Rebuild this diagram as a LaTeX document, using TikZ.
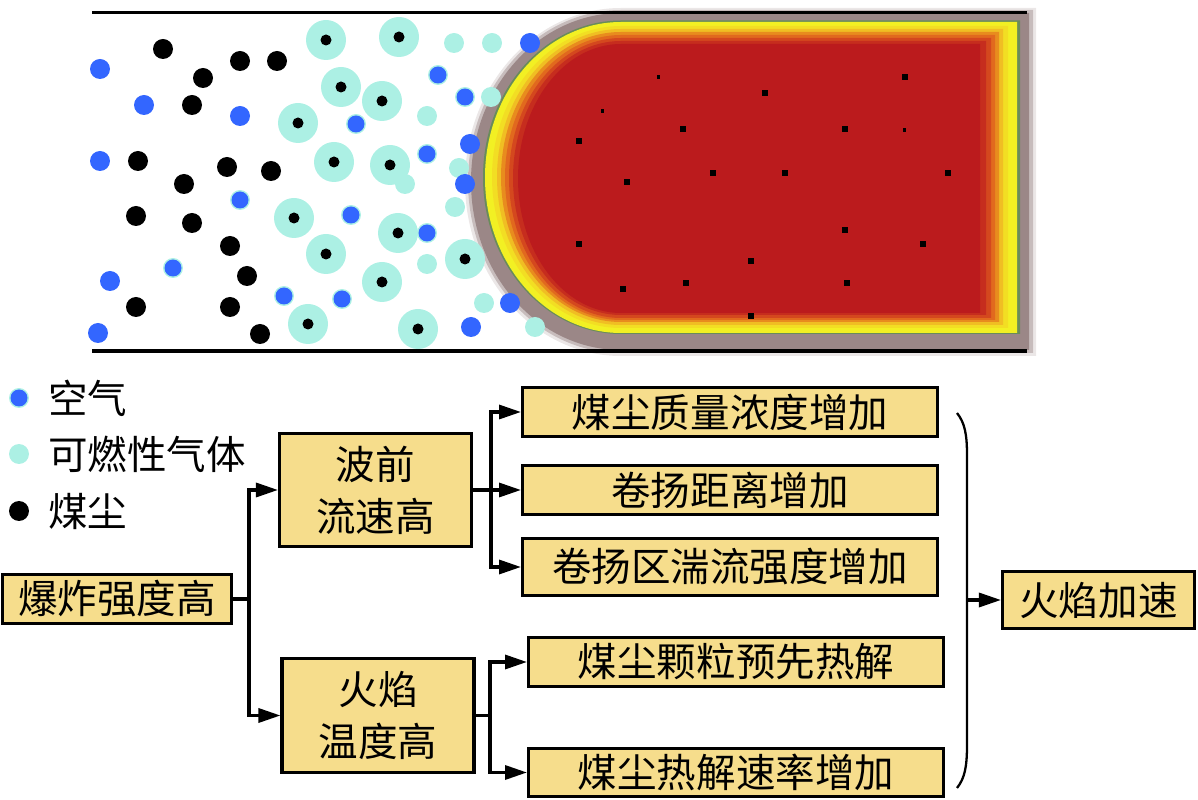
\documentclass[tikz,border=0pt]{standalone}
\usepackage{fontspec}
\usepackage{tikz}
\usetikzlibrary{arrows.meta,positioning,calc}
\newfontfamily\cjk{Noto Sans CJK SC}
\definecolor{boxfill}{RGB}{246,221,140}
\definecolor{airblue}{RGB}{51,102,255}
\definecolor{gascyan}{RGB}{172,240,228}
\definecolor{flamegray}{RGB}{155,135,135}
\definecolor{flamegreen}{RGB}{105,140,90}
\definecolor{flameyellow}{RGB}{242,240,35}
\definecolor{flamelemon}{RGB}{242,222,35}
\definecolor{flameamber}{RGB}{240,190,35}
\definecolor{flameorange}{RGB}{232,140,30}
\definecolor{flamerust}{RGB}{225,105,30}
\definecolor{flameblood}{RGB}{212,72,30}
\definecolor{flamedeep}{RGB}{198,45,30}
\definecolor{flamered}{RGB}{187,27,29}
\tikzstyle{box}        = [draw=black, line width=1.8pt, fill=boxfill, inner sep=0pt, align=center, font=\cjk\fontsize{22.5}{29.5}\selectfont]
\tikzstyle{legendtext} = [anchor=west, inner sep=0pt, font=\cjk\fontsize{22.5}{29.5}\selectfont]
\tikzstyle{line}       = [line width=1.8pt]
\tikzstyle{arrow}      = [line width=1.8pt, -{Triangle[length=12.5pt,width=8pt]}]
\begin{document}
\begin{tikzpicture}[x=0.02cm, y=-0.02cm]
		\useasboundingbox (0,0) rectangle (1198,800);

		% flame front in the duct
		\foreach \dt/\db/\dx/\R/\col/\op in {-5/-6/-6/1036/flamegray/0.2, -3/-3/-3/1033/flamegray/0.45, 0/0/0/1029/flamegray/1, 7.5/16/12/1020/flamegreen/1, 9/17/14/1017/flameyellow/1, 13/22/21/1008/flamelemon/1, 16/25/26/1003/flameamber/1, 19/28/30/999/flameorange/1, 22/30/34/995/flamerust/1, 25/32/38/991/flameblood/1, 28/35/42/986/flamedeep/1, 31/37/47/980/flamered/1}{
			\pgfmathsetmacro\yT{13+\dt}
			\pgfmathsetmacro\yB{350-\db}
			\pgfmathsetmacro\ry{(\yB-\yT)/2}
			\pgfmathsetmacro\rx{150-\dx}
			\fill[\col, fill opacity=\op] (621,\yT) -- (\R,\yT) -- (\R,\yB) -- (621,\yB) arc[start angle=90, end angle=270, x radius=\rx, y radius=\ry] -- cycle;
		}
		\foreach \x/\y in {765/93, 905/77, 683/129, 845/129, 579/141, 627/182, 713/173, 785/173, 948/173, 845/230, 579/244, 923/244, 751/261, 623/289, 686/283, 847/283, 751/316}
			\fill[black] (\x,\y) +(-3,-3) rectangle +(3,3);
		\foreach \x/\y in {658/77, 602/111, 904/130}
			\fill[black] (\x,\y) +(-1.5,-2) rectangle +(1.5,2);

		% particles
		\foreach \x/\y in {454/43, 492/43, 491/97, 427/116, 459/168, 405/184, 455/207, 427/264, 484/303, 535/327}
			\fill[gascyan] (\x,\y) circle[radius=10];
		\foreach \x/\y in {326/40, 399/37, 341/87, 382/101, 298/123, 334/162, 390/165, 294/218, 398/233, 326/254, 465/259, 382/282, 308/324, 418/329}{
			\fill[gascyan] (\x,\y) circle[radius=20];
			\fill[black] (\x,\y) circle[radius=5.5];
		}
		\foreach \x/\y in {163/49, 203/78, 240/61, 277/61, 192/105, 138/161, 227/167, 271/171, 184/184, 136/216, 192/223, 230/246, 247/276, 136/307, 230/307, 260/334}
			\fill[black] (\x,\y) circle[radius=10];
		\foreach \x/\y in {240/200, 173/268, 284/296, 342/299, 351/215, 356/124, 438/75, 465/97, 427/154, 427/233}{
			\fill[gascyan] (\x,\y) circle[radius=10];
			\fill[airblue] (\x,\y) circle[radius=8.5];
		}
		\foreach \x/\y in {100/69, 144/105, 240/116, 100/161, 110/281, 98/333, 530/43, 470/144, 465/184, 510/303, 471/327}
			\fill[airblue] (\x,\y) circle[radius=10];

		\draw[line] (92,12.5) -- (1027,12.5);
		\draw[line] (92,351) -- (1027,351);

		% legend
		\fill[gascyan] (19,398) circle[radius=10];
		\fill[airblue] (19,398) circle[radius=8.5];
		\fill[gascyan] (19,454) circle[radius=10];
		\fill[black] (19,511) circle[radius=10];
		\node[legendtext] (lair) at (48,398) {空气};
		\node[legendtext] (lgas) at (48,454) {可燃性气体};
		\node[legendtext] (ldust) at (48,511) {煤尘};

		% chain of effects
		\node[box, minimum width=4.58cm, minimum height=0.98cm] (strong) at (117,599) {爆炸强度高};
		\node[box, minimum width=3.84cm, minimum height=2.26cm] (flow) at (375.5,490) {波前\\流速高};
		\node[box, minimum width=3.84cm, minimum height=2.28cm] (temp) at (378,715.5) {火焰\\温度高};

		\node[box, minimum width=8.3cm, minimum height=0.98cm] (mass) at (730,412) {煤尘质量浓度增加};
		\node[box, minimum width=8.3cm, minimum height=0.98cm] (lift) at (730,490) {卷扬距离增加};
		\node[box, minimum width=8.3cm, minimum height=1.14cm] (turb) at (730,567) {卷扬区湍流强度增加};
		\node[box, minimum width=8.3cm, minimum height=0.98cm] (prepy) at (736,662) {煤尘颗粒预先热解};
		\node[box, minimum width=8.3cm, minimum height=0.96cm] (ratepy) at (736,772.5) {煤尘热解速率增加};

		\node[box, minimum width=3.84cm, minimum height=1.14cm] (accel) at (1098.5,600) {火焰加速};

		\coordinate (jstrong) at (249,599);
		\coordinate (jflow) at (491,490);
		\coordinate (jtemp) at (490,715.5);
		\coordinate (jbrace) at (967,600);

		\draw[line] (strong.east) -- (jstrong);
		\draw[arrow] (jstrong) |- (flow.west);
		\draw[arrow] (jstrong) |- (temp.west);

		\draw[line] (flow.east) -- (jflow);
		\draw[arrow] (jflow) |- (mass.west);
		\draw[arrow] (jflow) -- (lift.west);
		\draw[arrow] (jflow) |- (turb.west);

		\draw[line] (temp.east) -- (jtemp);
		\draw[arrow] (jtemp) |- (prepy.west);
		\draw[arrow] (jtemp) |- (ratepy.west);

		\draw[line, line width=1.3pt] (957,413) .. controls (965,423) and (967,435) .. (967,455) -- (967,745) .. controls (967,766) and (965,778) .. (957,788);
		\draw[arrow] (jbrace) -- (accel.west);
	\end{tikzpicture}
\end{document}
